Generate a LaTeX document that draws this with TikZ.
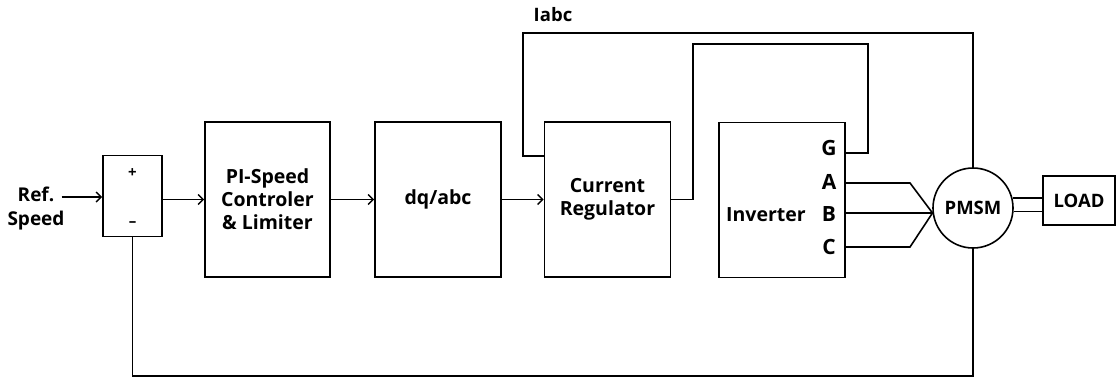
\documentclass[tikz,border=0pt]{standalone}
\usepackage{fontspec}
\setmainfont{Open Sans}
\usetikzlibrary{arrows.meta}
\begin{document}
\begin{tikzpicture}[x=1pt,y=-1pt,
  every node/.style={font=\bfseries\fontsize{19.5}{23}\selectfont},
  blk/.style={draw,line width=1.6pt,rectangle,align=center,inner sep=0pt},
  wire/.style={line width=1.6pt},
  arr/.style={line width=1.6pt,-{Straight Barb[length=5pt,width=10pt,line width=1.4pt]}},
  lbl/.style={inner sep=0pt,align=center},
  small/.style={font=\bfseries\fontsize{15}{22}\selectfont},
  mid/.style={font=\bfseries\fontsize{18.5}{22}\selectfont},
  refs/.style={font=\bfseries\fontsize{19}{24}\selectfont},
  pin/.style={inner sep=0pt,font=\bfseries\fontsize{21}{22}\selectfont}]
\useasboundingbox (0,0) rectangle (1119,381);
% blocks
\node[blk,minimum width=59pt,minimum height=81pt] (sum) at (132.5,196) {};
\node[lbl,small] (plus) at (132.5,173) {+};
\node[lbl,small] (minus) at (132.5,224) {--};
\node[blk,minimum width=125pt,minimum height=155pt] (pi) at (267.5,199.5) {PI-Speed\\Controler\\\& Limiter};
\node[blk,minimum width=126pt,minimum height=155pt] (dq) at (438,199.5) {dq/abc};
\node[blk,minimum width=126pt,minimum height=155pt] (cr) at (607.5,199.5) {Current\\Regulator};
\node[blk,minimum width=126pt,minimum height=155pt] (inv) at (782,200) {};
\node[lbl] (invt) at (766,215) {Inverter};
\node[pin] (G) at (829,148) {G};
\node[pin] (A) at (829,182) {A};
\node[pin] (B) at (829,214) {B};
\node[pin] (C) at (829,247) {C};
\node[draw,circle,line width=1.6pt,minimum size=80pt,inner sep=0pt,mid] (pmsm) at (973,208) {PMSM};
\node[blk,minimum width=72pt,minimum height=49pt,mid] (load) at (1079,200.5) {LOAD};
\node[lbl,refs] (ref) at (36,209) {Ref.\\Speed};
\node[lbl,mid] (iabc) at (553,15) {Iabc};
% coordinates
\coordinate (iabcL) at (523,33);
\coordinate (crup) at (693,44);
\coordinate (gup) at (868,44);
\coordinate (fbL) at (132.5,376);
\coordinate (bendA) at (910,183);
\coordinate (bendC) at (910,247);
% connectors
\draw[arr] ([xshift=-3pt]ref.east |- 0,197) -- (sum.west |- 0,197);
\draw[arr] (sum.east |- pi.west) -- (pi.west);
\draw[arr] (pi.east) -- (dq.west);
\draw[arr] (dq.east) -- (cr.west);
\draw[wire] (pmsm.north) |- (iabcL) |- (cr.west |- 0,156);
\draw[wire] (cr.east) -| (crup) -- (gup) |- (inv.east |- 0,153);
\draw[wire] (inv.east |- bendA) -- (bendA) -- (pmsm.187);
\draw[wire] (inv.east |- 0,213) -- (pmsm.187);
\draw[wire] (inv.east |- bendC) -- (bendC) -- (pmsm.187);
\draw[wire] (pmsm.14.5) -- (load.west |- pmsm.14.5);
\draw[wire] (pmsm.-5.7) -- (load.west |- pmsm.-5.7);
\draw[wire] (pmsm.south) |- (fbL) -- (sum.south);
\end{tikzpicture}
\end{document}
